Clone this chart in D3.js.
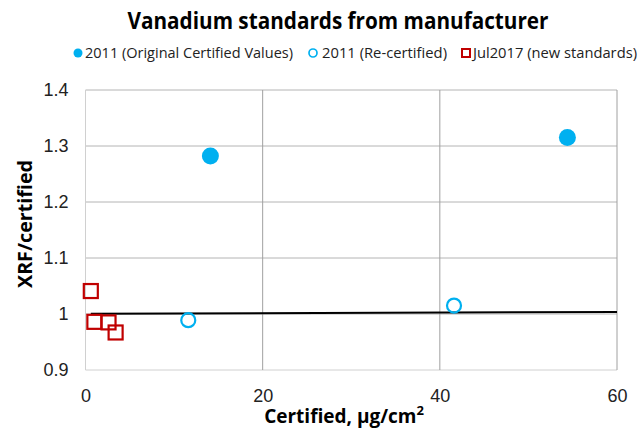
<!DOCTYPE html>
<html><head><meta charset="utf-8">
<script src="https://cdn.jsdelivr.net/npm/d3@7"></script>
<style>body{margin:0;background:#fff}svg{display:block}text{font-family:"Open Sans","Liberation Sans",sans-serif}</style>
</head><body>
<svg id="c" width="641" height="430"></svg>
<script>
const origX = [14.1, 54.4];
const origY = [1.282, 1.315];
const recertX = [11.6, 41.6];
const recertY = [0.989, 1.015];
const newX = [0.6, 1.0, 2.6, 3.4];
const newY = [1.041, 0.986, 0.985, 0.967];
const trendX = [0.6, 60];
const trendY = [1.0005, 1.0037];
const xTicks = [0, 20, 40, 60];
const yTicks = [0.9, 1.0, 1.1, 1.2, 1.3, 1.4];
const yTickLabels = ["0.9", "1", "1.1", "1.2", "1.3", "1.4"];
const seriesNames = ["2011 (Original Certified Values)", "2011 (Re-certified)", "Jul2017 (new standards)"];

const svg = d3.select("#c");
const L = 85.5, R = 617, T = 90, B = 370;
const x = d3.scaleLinear().domain([0, 60]).range([L, R]);
const y = d3.scaleLinear().domain([0.9, 1.4]).range([B, T]);
const blue = "#00b0f0", red = "#c00000";

// gridlines
const g = svg.append("g");
g.selectAll("line.h").data(yTicks).join("line")
  .attr("x1", L).attr("x2", R).attr("y1", d => y(d)).attr("y2", d => y(d))
  .attr("stroke", d => d === 0.9 ? "#d0d0d0" : "#b4b4b4").attr("stroke-width", 1);
g.selectAll("line.v").data(xTicks).join("line")
  .attr("y1", T).attr("y2", B).attr("x1", d => x(d)).attr("x2", d => x(d))
  .attr("stroke", d => (d === 0 ? "#d0d0d0" : "#a0a0a0")).attr("stroke-width", 1);

// axes labels via d3 axes
const yAxis = svg.append("g").attr("transform", `translate(${L},0)`)
  .call(d3.axisLeft(y).tickValues(yTicks).tickFormat((d, i) => yTickLabels[i]).tickSize(0).tickPadding(17));
const xAxis = svg.append("g").attr("transform", `translate(0,${B})`)
  .call(d3.axisBottom(x).tickValues(xTicks).tickFormat(d3.format("d")).tickSize(0).tickPadding(19));
[yAxis, xAxis].forEach(a => {
  a.select(".domain").remove();
  a.selectAll("text").attr("font-size", 18).attr("fill", "#222")
    .style("font-family", "'Liberation Sans', sans-serif");
});

// trendline
svg.append("line")
  .attr("x1", x(trendX[0])).attr("x2", x(trendX[1]))
  .attr("y1", y(trendY[0])).attr("y2", y(trendY[1]))
  .attr("stroke", "#000").attr("stroke-width", 2);

// series
svg.append("g").selectAll("circle").data(origX.map((v, i) => [v, origY[i]])).join("circle")
  .attr("cx", d => x(d[0])).attr("cy", d => y(d[1])).attr("r", 8.5).attr("fill", blue);
svg.append("g").selectAll("circle").data(recertX.map((v, i) => [v, recertY[i]])).join("circle")
  .attr("cx", d => x(d[0])).attr("cy", d => y(d[1])).attr("r", 7).attr("fill", "none")
  .attr("stroke", blue).attr("stroke-width", 2.2);
svg.append("g").selectAll("rect").data(newX.map((v, i) => [v, newY[i]])).join("rect")
  .attr("x", d => x(d[0]) - 7).attr("y", d => y(d[1]) - 7).attr("width", 14).attr("height", 14)
  .attr("fill", "none").attr("stroke", red).attr("stroke-width", 2.2);

// title
svg.append("text").attr("x", 338).attr("y", 29).attr("text-anchor", "middle")
  .attr("font-size", 23).attr("font-weight", "bold").attr("fill", "#000")
  .attr("textLength", 421).attr("lengthAdjust", "spacingAndGlyphs")
  .text("Vanadium standards from manufacturer");

// legend
const leg = svg.append("g").style("font-family", "'Liberation Sans', sans-serif");
const ly = 53;
leg.append("circle").attr("cx", 78).attr("cy", ly).attr("r", 4.5).attr("fill", blue);
leg.append("text").attr("x", 85).attr("y", ly + 5).attr("font-size", 15).attr("fill", "#222")
  .attr("textLength", 208).attr("lengthAdjust", "spacingAndGlyphs").text(seriesNames[0]);
leg.append("circle").attr("cx", 313).attr("cy", ly).attr("r", 4).attr("fill", "none").attr("stroke", blue).attr("stroke-width", 1.7);
leg.append("text").attr("x", 322).attr("y", ly + 5).attr("font-size", 15).attr("fill", "#222")
  .attr("textLength", 125).attr("lengthAdjust", "spacingAndGlyphs").text(seriesNames[1]);
leg.append("rect").attr("x", 462).attr("y", ly - 4).attr("width", 8).attr("height", 8)
  .attr("fill", "none").attr("stroke", red).attr("stroke-width", 2);
leg.append("text").attr("x", 473).attr("y", ly + 5).attr("font-size", 15).attr("fill", "#222")
  .attr("textLength", 164).attr("lengthAdjust", "spacingAndGlyphs").text(seriesNames[2]);

// axis titles
const xt = svg.append("text").attr("x", 344).attr("y", 423).attr("text-anchor", "middle")
  .attr("font-size", 19).attr("font-weight", "bold").attr("fill", "#000");
xt.append("tspan").text("Certified, µg/cm");
xt.append("tspan").attr("dy", -8).attr("font-size", 13).text("2");

svg.append("text").attr("transform", "translate(32,224) rotate(-90)").attr("text-anchor", "middle")
  .attr("font-size", 19).attr("font-weight", "bold").attr("fill", "#000")
  .attr("textLength", 128).attr("lengthAdjust", "spacingAndGlyphs")
  .text("XRF/certified");
</script>
</body></html>
